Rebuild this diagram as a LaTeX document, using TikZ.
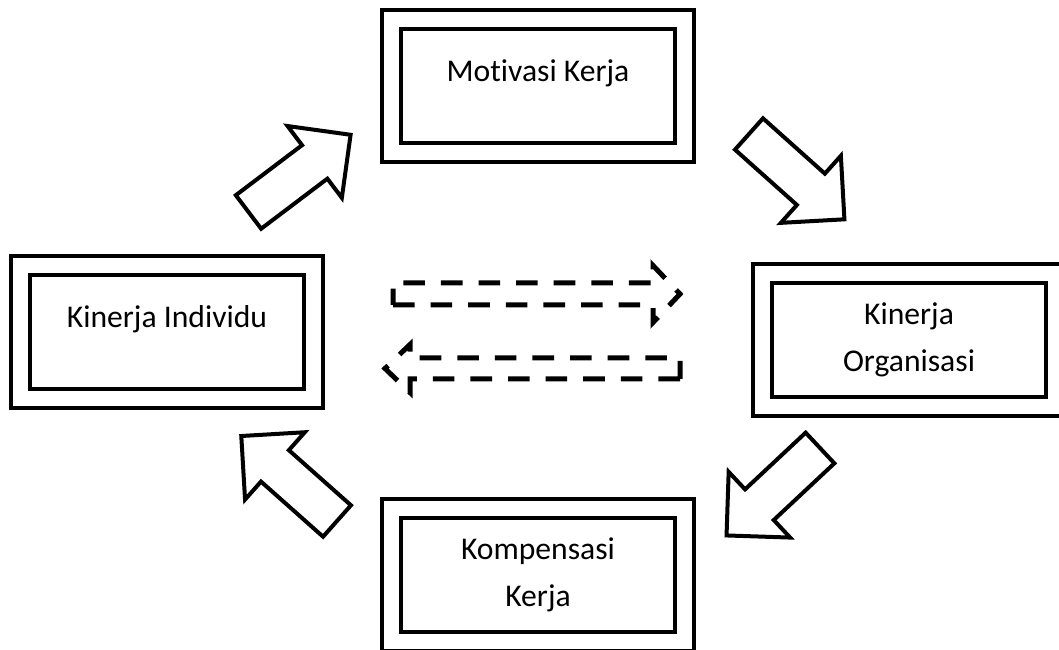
\documentclass[tikz,border=0pt]{standalone}
\usepackage{fontspec}
\setmainfont[Ligatures=NoCommon]{Carlito}

\begin{document}
\begin{tikzpicture}[
    box/.style={draw, double, double distance=0.375cm, line width=0.1cm, minimum width=7.325cm, minimum height=3.325cm, inner sep=0pt},
    boxtext/.style={font=\fontsize{22.5}{33}\selectfont, align=center},
    blockarrow/.style={draw, line width=0.1cm, fill=white},
    dasharrow/.style={draw, line width=0.125cm, dash pattern=on 0.54cm off 0.4cm}
]
    \clip (0,0) rectangle (26.475,16.225);
    \fill[white] (0,0) rectangle (26.475,16.225);

    % Boxes (double border)
    \node[box] (motivasi) at (13.45, 14.0625) {};
    \node[boxtext] (motivasitxt) at ([yshift=0.33cm]motivasi.center) {Motivasi Kerja};
    \node[box] (individu) at (4.175, 7.925) {};
    \node[boxtext] (individutxt) at ([yshift=0.33cm]individu.center) {Kinerja Individu};
    \node[box, boxtext] (organisasi) at (22.725, 7.725) {Kinerja\\Organisasi};
    \node[box, boxtext] (kompensasi) at (13.45, 1.85) {Kompensasi\\Kerja};

    % Block arrows round the cycle
    \foreach \x/\y/\a in {6.2125/10.925/37.1, 18.725/12.875/-41.8, 8.425/3.2/138.4, 20.5/5.025/-136.9} {
        \draw[blockarrow, shift={(\x,\y)}, rotate=\a] (0,-0.525) -- (2.075,-0.525) -- (2.075,-1.125) -- (3.2,0) -- (2.075,1.125) -- (2.075,0.525) -- (0,0.525) -- cycle;
    }

    % Dashed arrows in the middle
    \draw[dasharrow] (9.825,8.6) -- (16.325,8.6) -- (16.325,8.1625) -- (17.0,8.875) -- (16.325,9.5875) -- (16.325,9.15) -- (9.825,9.15) -- cycle;
    \draw[dasharrow] (17.0,6.75) -- (10.25,6.75) -- (10.25,6.4125) -- (9.625,7.0125) -- (10.25,7.6125) -- (10.25,7.275) -- (17.0,7.275) -- cycle;

\end{tikzpicture}
\end{document}
